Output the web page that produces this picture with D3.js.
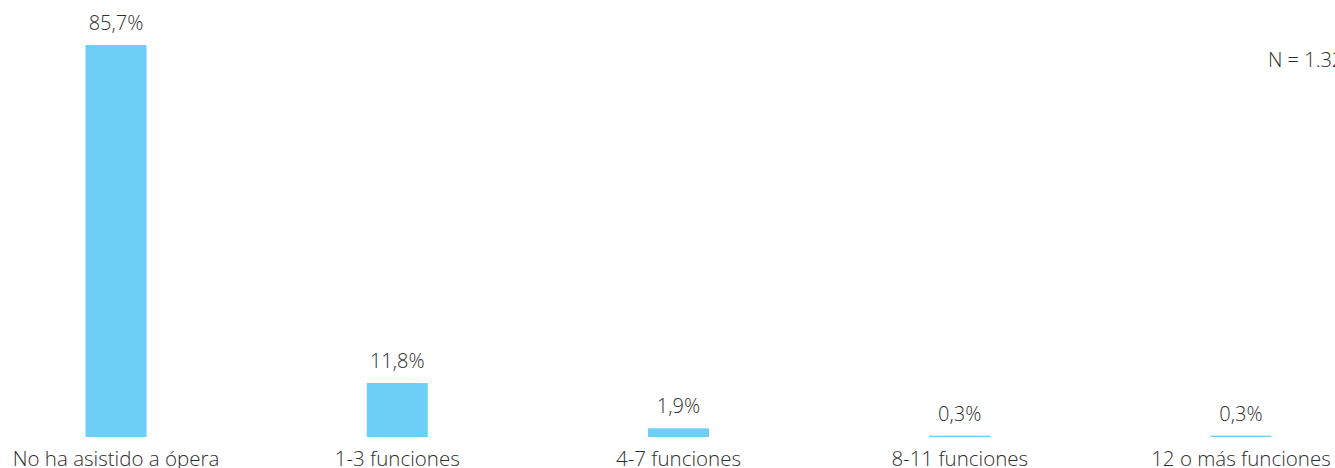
<!DOCTYPE html>
<html><head><meta charset="utf-8">
<script src="https://cdn.jsdelivr.net/npm/d3@7"></script>
<style>
html,body{margin:0;padding:0;background:#fff;overflow:hidden;}
text{font-family:"Open Sans",sans-serif;fill:#2e2e2e;font-weight:300;}
</style></head>
<body>
<svg id="c" width="1335" height="468"></svg>
<script>
const categories = ["No ha asistido a ópera","1-3 funciones","4-7 funciones","8-11 funciones","12 o más funciones"];
const values = [85.7, 11.8, 1.9, 0.3, 0.3];
const valueLabels = ["85,7%","11,8%","1,9%","0,3%","0,3%"];
const noteText = "N = 1.320";

const svg = d3.select("#c");
const baseline = 437;
const x = d3.scaleBand().domain(categories).range([-24.6, 1381.6]).paddingInner(0.783).paddingOuter(0.3915);
const y = d3.scaleLinear().domain([0, 85.7]).range([baseline, 45]);

svg.selectAll("rect.bar").data(values).join("rect")
  .attr("class","bar")
  .attr("x",(d,i)=>x(categories[i]))
  .attr("width",x.bandwidth())
  .attr("y",d=>y(d))
  .attr("height",d=>baseline-y(d))
  .attr("fill","#6dcff6");

svg.selectAll("text.val").data(values).join("text")
  .attr("class","val")
  .attr("x",(d,i)=>x(categories[i])+x.bandwidth()/2)
  .attr("y",d=>y(d)-15)
  .attr("text-anchor","middle")
  .attr("font-size",20)
  .text((d,i)=>valueLabels[i]);

svg.selectAll("text.cat").data(categories).join("text")
  .attr("class","cat")
  .attr("x",d=>x(d)+x.bandwidth()/2)
  .attr("y",466)
  .attr("text-anchor","middle")
  .attr("font-size",20.5)
  .text(d=>d);

svg.append("text").attr("x",1268).attr("y",67).attr("font-size",20).text(noteText);
</script>
</body></html>
